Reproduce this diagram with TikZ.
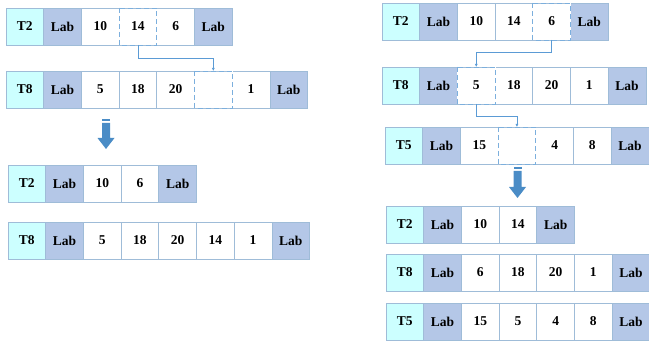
\documentclass[tikz,border=0pt]{standalone}
\usepackage{fontspec}
\setmainfont{Liberation Serif}
\usepackage{tikz}
\usetikzlibrary{arrows.meta,positioning}
\definecolor{tcyan}{HTML}{CCFFFF}
\definecolor{labblue}{HTML}{B4C7E7}
\definecolor{cellline}{HTML}{9FBCD8}
\definecolor{linkblue}{HTML}{5B9BD5}
\definecolor{fatblue}{HTML}{4A8CC6}
\tikzset{
  cellbase/.style={rectangle, draw=cellline, line width=0.8pt, inner sep=0pt, outer sep=0pt,
                   minimum width=37.7pt, minimum height=37pt, anchor=north west,
                   font=\bfseries\fontsize{13.5}{15}\selectfont},
  tcell/.style={cellbase, fill=tcyan},
  labcell/.style={cellbase, fill=labblue},
  numcell/.style={cellbase, fill=white},
  gapline/.style={draw=linkblue!80, line width=0.8pt, dash pattern=on 5pt off 3pt,
                  preaction={draw=white, solid, line width=1pt}},
  link/.style={-{Latex[length=3pt,width=3pt]}, line width=0.6pt, draw=linkblue},
  fatarrow/.style={fill=fatblue},
}

\begin{document}
\begin{tikzpicture}[x=1pt, y=-1pt, node distance=0pt]
    \useasboundingbox (0,0) rectangle (649,342);
    % left, before
    \node[tcell] (lA1) at (6,8) {T2};
    \node[labcell, right=of lA1] (lA2) {Lab};
    \node[numcell, right=of lA2] (lA3) {10};
    \node[numcell, right=of lA3] (lA4) {14};
    \node[numcell, right=of lA4] (lA5) {6};
    \node[labcell, right=of lA5] (lA6) {Lab};

    \node[tcell] (lB1) at (6,71) {T8};
    \node[labcell, right=of lB1] (lB2) {Lab};
    \node[numcell, right=of lB2] (lB3) {5};
    \node[numcell, right=of lB3] (lB4) {18};
    \node[numcell, right=of lB4] (lB5) {20};
    \node[numcell, right=of lB5] (lB6) {};
    \node[numcell, right=of lB6] (lB7) {1};
    \node[labcell, right=of lB7] (lB8) {Lab};

    % left, after
    \node[tcell] (lC1) at (8,165) {T2};
    \node[labcell, right=of lC1] (lC2) {Lab};
    \node[numcell, right=of lC2] (lC3) {10};
    \node[numcell, right=of lC3] (lC4) {6};
    \node[labcell, right=of lC4] (lC5) {Lab};

    \node[tcell] (lD1) at (8,222) {T8};
    \node[labcell, right=of lD1] (lD2) {Lab};
    \node[numcell, right=of lD2] (lD3) {5};
    \node[numcell, right=of lD3] (lD4) {18};
    \node[numcell, right=of lD4] (lD5) {20};
    \node[numcell, right=of lD5] (lD6) {14};
    \node[numcell, right=of lD6] (lD7) {1};
    \node[labcell, right=of lD7] (lD8) {Lab};

    % right, before
    \node[tcell] (rA1) at (382,3) {T2};
    \node[labcell, right=of rA1] (rA2) {Lab};
    \node[numcell, right=of rA2] (rA3) {10};
    \node[numcell, right=of rA3] (rA4) {14};
    \node[numcell, right=of rA4] (rA5) {6};
    \node[labcell, right=of rA5] (rA6) {Lab};

    \node[tcell] (rB1) at (382,67) {T8};
    \node[labcell, right=of rB1] (rB2) {Lab};
    \node[numcell, right=of rB2] (rB3) {5};
    \node[numcell, right=of rB3] (rB4) {18};
    \node[numcell, right=of rB4] (rB5) {20};
    \node[numcell, right=of rB5] (rB6) {1};
    \node[labcell, right=of rB6] (rB7) {Lab};

    \node[tcell] (rC1) at (385,127) {T5};
    \node[labcell, right=of rC1] (rC2) {Lab};
    \node[numcell, right=of rC2] (rC3) {15};
    \node[numcell, right=of rC3] (rC4) {};
    \node[numcell, right=of rC4] (rC5) {4};
    \node[numcell, right=of rC5] (rC6) {8};
    \node[labcell, right=of rC6] (rC7) {Lab};

    % right, after
    \node[tcell] (rD1) at (386,206) {T2};
    \node[labcell, right=of rD1] (rD2) {Lab};
    \node[numcell, right=of rD2] (rD3) {10};
    \node[numcell, right=of rD3] (rD4) {14};
    \node[labcell, right=of rD4] (rD5) {Lab};

    \node[tcell] (rE1) at (386,254) {T8};
    \node[labcell, right=of rE1] (rE2) {Lab};
    \node[numcell, right=of rE2] (rE3) {6};
    \node[numcell, right=of rE3] (rE4) {18};
    \node[numcell, right=of rE4] (rE5) {20};
    \node[numcell, right=of rE5] (rE6) {1};
    \node[labcell, right=of rE6] (rE7) {Lab};

    \node[tcell] (rF1) at (386,303) {T5};
    \node[labcell, right=of rF1] (rF2) {Lab};
    \node[numcell, right=of rF2] (rF3) {15};
    \node[numcell, right=of rF3] (rF4) {5};
    \node[numcell, right=of rF4] (rF5) {4};
    \node[numcell, right=of rF5] (rF6) {8};
    \node[labcell, right=of rF6] (rF7) {Lab};

    % moved / emptied cells
    \foreach \c in {lA4,lB6,rA5,rB3,rC4}
      \draw[gapline] (\c.north west) rectangle (\c.south east);

    % moves
    \draw[link] (lA4.south) -- ++(0,13) -| (lB6.north);
    \draw[link] (rA5.south) -- ++(0,12) -| (rB3.north);
    \draw[link] (rB3.south) -- ++(0,12) -| (rC4.north);

    % fat arrows
    \begin{scope}[shift={(106,119)}]
      \fill[fatarrow] (-4,0) rectangle (4,2.5);
      \fill[fatarrow] (-4,4) -- (4,4) -- (4,19) -- (8.5,19) -- (0,30) -- (-8.5,19) -- (-4,19) -- cycle;
    \end{scope}
    \begin{scope}[shift={(517.5,167)}]
      \fill[fatarrow] (-4,0) rectangle (4,2.5);
      \fill[fatarrow] (-4,4) -- (4,4) -- (4,20) -- (8.5,20) -- (0,31) -- (-8.5,20) -- (-4,20) -- cycle;
    \end{scope}
  \end{tikzpicture}
\end{document}
